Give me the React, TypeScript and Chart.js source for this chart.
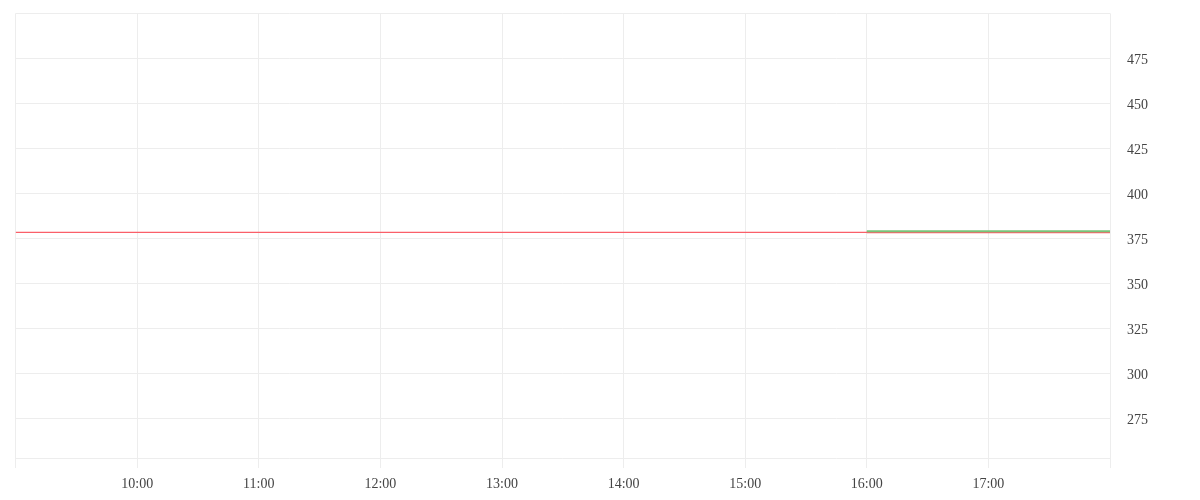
import { useEffect, useRef } from "react"
import { Chart, registerables } from "chart.js"

Chart.register(...registerables)

// hours of the trading day
const hours = [9, 10, 11, 12, 13, 14, 15, 16, 17, 18]
const priceLine = [378.3, 378.3, 378.3, 378.3, 378.3, 378.3, 378.3, 378.3, 378.3, 378.3]

const lateHours = [16, 17, 18]
const lateRed = [378.3, 378.3, 378.3]
const lateGreen = [378.9, 378.9, 378.9]

const yMin = 252.8
const yMax = 500
const yStep = 25

const red = "rgb(250, 95, 105)"
const green = "rgb(120, 195, 120)"

const toPoints = (xs: number[], ys: number[]) => xs.map((x, i) => ({ x, y: ys[i] }))

export default function App() {
  const ref = useRef<HTMLCanvasElement>(null)
  const chartRef = useRef<Chart | null>(null)

  useEffect(() => {
    if (!ref.current) return
    if (chartRef.current) chartRef.current.destroy()
    document.documentElement.style.overflow = "hidden"

    chartRef.current = new Chart(ref.current, {
      type: "line",
      data: {
        datasets: [
          {
            data: toPoints(lateHours, lateGreen),
            borderColor: green,
            borderWidth: 2,
            pointRadius: 0,
          },
          {
            data: toPoints(lateHours, lateRed),
            borderColor: red,
            borderWidth: 2,
            pointRadius: 0,
          },
          {
            data: toPoints(hours, priceLine),
            borderColor: red,
            borderWidth: 1.2,
            pointRadius: 0,
          },
        ],
      },
      options: {
        animation: false,
        responsive: true,
        maintainAspectRatio: false,
        layout: { padding: { left: 5, top: 0, right: 0, bottom: 0 } },
        plugins: {
          legend: { display: false },
          tooltip: { enabled: false },
        },
        scales: {
          x: {
            type: "linear",
            min: 9,
            max: 18,
            grid: { color: "#ededed", tickLength: 10 },
            border: { display: false },
            ticks: {
              stepSize: 1,
              padding: 7.6,
              color: "#444",
              font: { family: "serif", size: 14 },
              autoSkip: false,
              maxRotation: 0,
              callback: (v) => {
                const n = Number(v)
                if (n <= 9 || n >= 18) return ""
                return n + ":00"
              },
            },
          },
          y: {
            position: "right",
            min: yMin,
            max: yMax,
            afterFit: (scale: any) => { scale.width = 82 },
            grid: { color: "#ededed", drawTicks: true, tickLength: 20, tickColor: "rgba(0,0,0,0)" },
            border: { display: false },
            ticks: {
              stepSize: yStep,
              padding: -3,
              labelOffset: 2,
              color: "#444",
              font: { family: "serif", size: 14 },
              callback: (v) => {
                const n = Number(v)
                if (n % 25 !== 0 || n >= 500) return ""
                return String(n)
              },
            },
          },
        },
      },
    })

    return () => { chartRef.current?.destroy() }
  }, [])

  return (
    <div style={{ width: 1184, height: 492 }}>
      <canvas ref={ref} />
    </div>
  )
}
